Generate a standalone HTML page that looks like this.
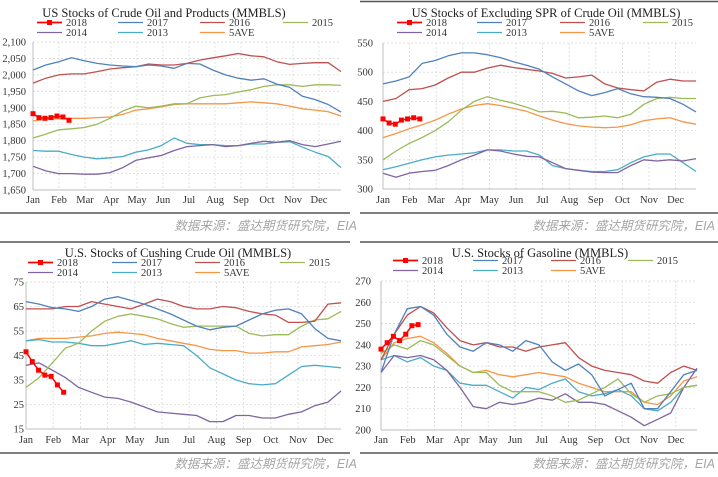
<!DOCTYPE html>
<html><head><meta charset="utf-8"><style>
html,body{margin:0;padding:0;background:#fff;}
svg{display:block;font-family:"Liberation Serif",serif;}
.src{font-family:"Liberation Sans","Noto Sans CJK SC",sans-serif;font-style:italic;fill:#a6a6a6;font-size:12.5px;}
</style></head><body>
<svg id="c" width="718" height="477" viewBox="0 0 718 477" xmlns="http://www.w3.org/2000/svg"></svg>
<script>
const months = ["Jan","Feb","Mar","Apr","May","Jun","Jul","Aug","Sep","Oct","Nov","Dec"];
const seriesNames = ["2018","2017","2016","2015","2014","2013","5AVE"];
// Panel 1: Crude oil and products
const p1Ticks = [1650,1700,1750,1800,1850,1900,1950,2000,2050,2100];
const p1_2018 = [1882,1870,1868,1870,1875,1872,1862];
const p1_2017 = [2015,2030,2040,2052,2043,2035,2030,2027,2025,2030,2027,2020,2035,2033,2015,2000,1990,1984,1988,1972,1962,1935,1925,1910,1887];
const p1_2016 = [1975,1990,2000,2003,2003,2010,2018,2022,2025,2033,2030,2030,2035,2045,2052,2058,2065,2058,2055,2040,2032,2035,2037,2037,2010];
const p1_2015 = [1808,1820,1833,1836,1840,1850,1868,1890,1905,1900,1905,1912,1912,1930,1937,1940,1948,1955,1965,1970,1970,1965,1970,1970,1968];
const p1_2014 = [1722,1708,1700,1700,1698,1698,1703,1718,1740,1748,1755,1770,1782,1785,1788,1782,1785,1792,1798,1795,1800,1788,1782,1790,1798];
const p1_2013 = [1770,1768,1768,1758,1750,1745,1748,1752,1765,1772,1785,1808,1792,1788,1788,1785,1785,1790,1790,1795,1797,1780,1765,1752,1718];
const p1_5ave = [1860,1865,1867,1868,1868,1870,1872,1880,1893,1897,1903,1910,1912,1912,1912,1912,1915,1918,1915,1912,1905,1897,1893,1888,1875];
// Panel 2: Excluding SPR
const p2Ticks = [300,350,400,450,500,550];
const p2_2018 = [420,413,411,418,420,422,420];
const p2_2017 = [480,485,492,515,520,528,533,533,530,525,518,512,505,492,480,468,460,465,472,463,458,457,455,445,432];
const p2_2016 = [450,455,470,472,478,490,500,500,507,512,508,505,502,498,490,492,495,480,473,470,468,483,488,485,485];
const p2_2015 = [350,365,378,388,400,415,435,450,458,452,447,440,432,433,430,422,423,425,422,428,445,455,457,455,455];
const p2_2014 = [327,320,327,330,332,340,350,358,367,365,360,356,355,345,335,332,329,328,328,340,350,348,350,348,352];
const p2_2013 = [333,338,344,350,355,358,360,362,367,367,365,365,358,340,335,332,330,330,333,345,355,360,360,345,330];
const p2_5ave = [388,395,403,410,418,428,437,443,446,443,438,433,425,418,412,408,406,405,406,410,417,420,422,415,411];
// Panel 3: Cushing
const p3Ticks = [15,25,35,45,55,65,75];
const p3_2018 = [46.5,42.5,39,37,36.5,33,30];
const p3_2017 = [67,66,64.5,64,63,65,68,69,67.5,66,64,62,59.5,57,55.5,56.5,57,59.5,62,63.5,64,62,56,52,51];
const p3_2016 = [64,64,64,65,65,67,66,65,64,66,68,67,65,64,64,65,64.5,63,62,61.5,58.5,58.5,59,66,66.5];
const p3_2015 = [32,36,42,48,50,55,59,61,62,61,60,58,56.5,57,57,57,57,54,53,53.5,53.5,57,59.5,60,63];
const p3_2014 = [41,42,39,36,32,30,28,27.5,26,24,22,21.5,21,20.5,18,18,20.5,20.5,19.5,19.5,21,22,24.5,26,30.5];
const p3_2013 = [51,51.5,50.5,50.5,50,49,49,50,51,49.5,50,49.5,49,45,40,37.5,35,33.5,33,33.5,37,40.5,41,40.5,40];
const p3_5ave = [51,52,52,52,52.5,53,54,54.5,54,53.5,52,51,50,49,47.5,47,47,46,46,46.5,46.5,48.5,49,49.5,50.5];
// Panel 4: Gasoline
const p4Ticks = [200,210,220,230,240,250,260,270];
const p4_2018 = [238,241,244,242,245,249,249.5];
const p4_2017 = [227,245,257,258,254,245,239,237,241,240,237,242,240,232,228,231,226,216,219,222,210,210,218,226,228];
const p4_2016 = [233,245,254,258,255,248,242,240,241,239,239,237,239,240,241,234,230,228,227,226,223,222,227,230,228];
const p4_2015 = [236,240,238,242,240,235,230,227,227,221,218,218,218,216,213,214,217,220,224,217,213,216,217,220,221];
const p4_2014 = [227,235,234,235,233,228,220,211,210,213,212,213,215,214,217,213,213,212,209,206,202,205,208,220,229];
const p4_2013 = [233,235,232,234,230,228,222,221,221,218,215,220,219,222,224,218,216,217,219,216,210,209,213,220,221];
const p4_5ave = [233,241,243,244,241,236,230,227,228,226,225,226,227,226,225,222,220,218,218,218,213,212,216,223,225];

const colors = {"2018":"#ff0000","2017":"#4f81bd","2016":"#c0504d","2015":"#9bbb59","2014":"#8064a2","2013":"#4bacc6","5AVE":"#f79646"};
const NS="http://www.w3.org/2000/svg";
const svg=document.getElementById('c');
function mk(tag,attrs,parent){const e=document.createElementNS(NS,tag);for(const k in attrs)e.setAttribute(k,attrs[k]);(parent||svg).appendChild(e);return e;}

const panels=[
 {id:"crude-products",title:"US Stocks of Crude Oil and Products  (MMBLS)",tx:164,ty:17,x0:33,x1:341,mstep:26,y0:42,y1:190,ticks:p1Ticks,fmt:v=>v.toLocaleString('en-US'),tickR:26,mY:203,legX:[37,118,200,283],legY:[26,36],
  data:[p1_2018,p1_2017,p1_2016,p1_2015,p1_2014,p1_2013,p1_5ave]},
 {id:"excl-spr",title:"US Stocks of Excluding  SPR of Crude Oil  (MMBLS)",tx:546,ty:17,x0:383,x1:696,mstep:26.6,y0:43,y1:189,ticks:p2Ticks,fmt:v=>String(v),tickR:373,mY:203,legX:[397,477,560,643],legY:[26,36],
  data:[p2_2018,p2_2017,p2_2016,p2_2015,p2_2014,p2_2013,p2_5ave]},
 {id:"cushing",title:"U.S.  Stocks of Cushing  Crude Oil (MMBLS)",tx:178,ty:257,x0:26,x1:341,mstep:27.2,y0:282,y1:429,ticks:p3Ticks,fmt:v=>String(v),tickR:24,mY:443,legX:[28,112,195,280],legY:[266,276],
  data:[p3_2018,p3_2017,p3_2016,p3_2015,p3_2014,p3_2013,p3_5ave]},
 {id:"gasoline",title:"U.S.  Stocks of  Gasoline (MMBLS)",tx:540,ty:257,x0:381,x1:697,mstep:26.8,y0:281,y1:430,ticks:p4Ticks,fmt:v=>String(v),tickR:371,mY:443,legX:[393,473,551,628],legY:[264,274],
  data:[p4_2018,p4_2017,p4_2016,p4_2015,p4_2014,p4_2013,p4_5ave]}
];

panels.forEach(p=>{
 const g=mk('g',{});
 
 
 const tmin=p.ticks[0],tmax=p.ticks[p.ticks.length-1];
 const ys=v=>p.y1-(v-tmin)/(tmax-tmin)*(p.y1-p.y0);
 const xs=t=>p.x0+t*p.mstep;
 const tEnd=(p.x1-p.x0)/p.mstep;
 // grid
 p.ticks.forEach((v,i)=>{
  if(i>0){const l=mk('line',{x1:p.x0,x2:p.x1,y1:ys(v),y2:ys(v),stroke:"#d9d9d9","stroke-dasharray":"2,2","stroke-width":0.8},g);
  }
  const t=mk('text',{x:p.tickR,y:ys(v)+3.5,"text-anchor":"end","font-size":"10.5",fill:"#333"},g);
  t.textContent=p.fmt(v);
  
 });
 months.forEach((m,i)=>{
  if(i>0){const l=mk('line',{x1:xs(i),x2:xs(i),y1:p.y0,y2:p.y1,stroke:"#d9d9d9","stroke-dasharray":"2,2","stroke-width":0.8},g);
  }
  const t=mk('text',{x:xs(i),y:p.mY,"text-anchor":"middle","font-size":"10.5",fill:"#333"},g);
  t.textContent=m;
  
 });
 const ax=mk('line',{x1:p.x0,x2:p.x1,y1:p.y1,y2:p.y1,stroke:"#bfbfbf","stroke-width":1},g);
 
 const ay=mk('line',{x1:p.x0,x2:p.x0,y1:p.y0,y2:p.y1,stroke:"#bfbfbf","stroke-width":1},g);
 
 const tt=mk('text',{x:p.tx,y:p.ty,"text-anchor":"middle","font-size":"12.5",fill:"#222"},g);
 tt.textContent=p.title;
 
 // series, draw older first
 for(let s=6;s>=0;s--){
  const arr=p.data[s];const name=seriesNames[s];
  let pts;
  if(s===0){pts=arr.map((v,i)=>[xs(i*12/52),ys(v)]);}
  else{pts=arr.map((v,i)=>[xs(i*tEnd/(arr.length-1)),ys(v)]);}
  const pl=mk('polyline',{points:pts.map(q=>q[0].toFixed(1)+','+q[1].toFixed(1)).join(' '),fill:"none",stroke:colors[name],"stroke-width":s===0?1.5:1.3,"stroke-linejoin":"round"},g);
  
  
  if(s===0){pts.forEach(q=>{const r=mk('rect',{x:q[0]-2.5,y:q[1]-2.5,width:5,height:5,fill:colors[name]},g);
   });}
 }
 // legend
 seriesNames.forEach((name,i)=>{
  const row=i<4?0:1,col=i<4?i:i-4;
  const lx=p.legX[col],ly=p.legY[row];
  const lg=mk('g',{},g);
  
  
  mk('line',{x1:lx,x2:lx+25,y1:ly-3.5,y2:ly-3.5,stroke:colors[name],"stroke-width":name==="2018"?1.8:1.3},lg);
  if(name==="2018")mk('rect',{x:lx+10,y:ly-6,width:5,height:5,fill:colors[name]},lg);
  const t=mk('text',{x:lx+29,y:ly,"font-size":"10.5",fill:"#333"},lg);
  t.textContent=name;
 });
});
// dividers and source
[[0,350,213],[360,718,213],[0,350,242],[360,718,242],[0,350,453],[360,718,453],[360,718,1.5]].forEach(d=>{
 const l=mk('line',{x1:d[0],x2:d[1],y1:d[2],y2:d[2],stroke:"#555","stroke-width":1.5});
 
});
[[357,230],[715,230],[357,468],[715,468]].forEach(d=>{
 const t=mk('text',{x:d[0],y:d[1],"text-anchor":"end",class:"src"});
 t.textContent="数据来源：盛达期货研究院，EIA";
 
});
</script>
</body></html>
